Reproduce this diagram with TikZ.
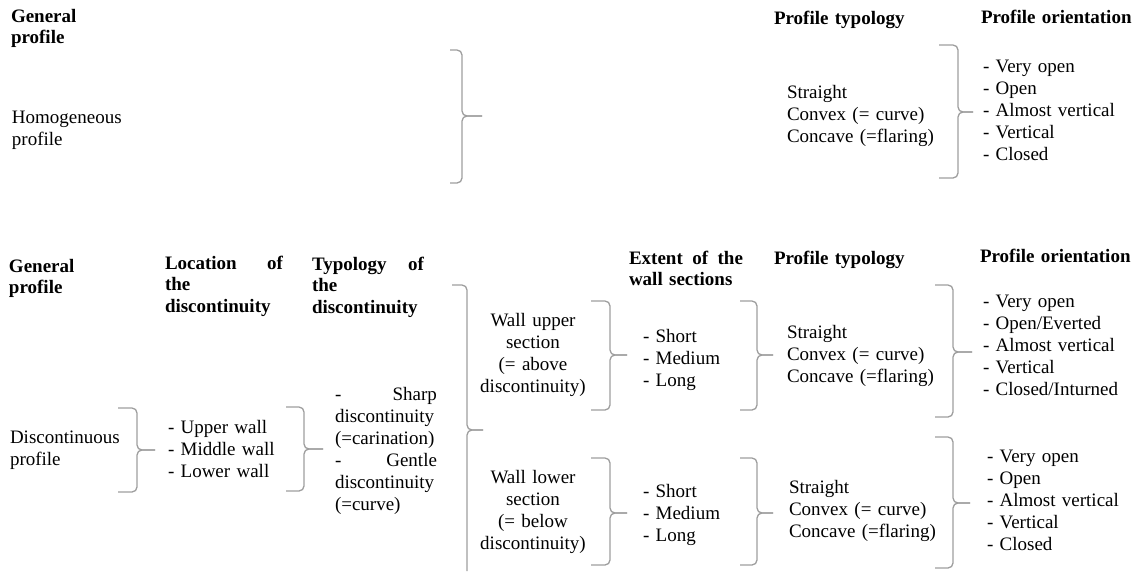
\documentclass[tikz,border=0pt]{standalone}
\usepackage{fontspec}
\setmainfont{Liberation Serif}
\tikzset{
  txt/.style={inner sep=0pt, outer sep=0pt, anchor=base west, align=left, text width=175pt, font=\fontsize{19}{22}\selectfont},
  hd/.style={txt, font=\fontsize{19}{21.5}\selectfont\bfseries},
  ctr/.style={txt, anchor=base, align=center, text width=140pt},
  brc/.style={draw=black!38, line width=1.3pt, rounded corners=5pt}
}
\newcommand{\rbr}[6]{% x0 x1 top mid bot tip
  \draw[brc] (#1,#3) -- (#2,#3) -- (#2,#4) -- (#6,#4);
  \draw[brc] (#1,#5) -- (#2,#5) -- (#2,#4) -- (#6,#4);}
\begin{document}
\begin{tikzpicture}[x=1pt,y=-1pt]
\useasboundingbox (0,0) rectangle (1138,571);
% ---------- top part
\node[hd, text width=90pt] (gp1) at (11,22) {General\\profile};
\node[txt, text width=130pt] (homo) at (12,123) {Homogeneous\\profile};
\rbr{450}{462}{50}{116}{183}{482}
\node[hd] (pt1) at (774,24) {Profile typology};
\node[hd, text width=155pt] (po1) at (981,23) {Profile orientation};
\node[txt] (st1) at (787,98) {Straight\\Convex (= curve)\\Concave (=flaring)};
\rbr{939}{958}{45}{112}{178}{973}
\node[txt, text width=150pt] (or1) at (983,72) {- Very open\\- Open\\- Almost vertical\\- Vertical\\- Closed};
% ---------- bottom part
\node[hd, text width=90pt] (gp2) at (9,272) {General\\profile};
\node[hd, text width=118pt] (loc) at (165,269) {Location\hfill of\\the\\discontinuity};
\node[hd, text width=112pt] (typ) at (312,270) {Typology\hfill of\\the\\discontinuity};
\node[hd, text width=114pt] (ext) at (629,264) {Extent\hfill of\hfill the\\wall sections};
\node[hd] (pt2) at (774,264) {Profile typology};
\node[hd, text width=155pt] (po2) at (980,262) {Profile orientation};
\node[txt, text width=120pt] (disc) at (10,443) {Discontinuous\\profile};
\rbr{118}{137}{408}{450}{492}{155}
\node[txt, text width=115pt] (walls) at (168,433) {- Upper wall\\- Middle wall\\- Lower wall};
\rbr{286}{304}{407}{449}{491}{323}
\node[txt, text width=102pt] (sharp) at (335,400) {-\hfill Sharp\\discontinuity\\(=carination)\\-\hfill Gentle\\discontinuity\\(=curve)};
% big brace, cut by the lower edge
\draw[brc] (452,285) -- (467,285) -- (467,430) -- (483,430);
\draw[brc] (467,571) -- (467,430) -- (483,430);
\node[ctr] (wup) at (533,326) {Wall upper\\section\\(= above\\discontinuity)};
\node[ctr] (wlo) at (533,483) {Wall lower\\section\\(= below\\discontinuity)};
\rbr{591}{610}{301}{355}{410}{627}
\node[txt, text width=90pt] (sh1) at (643,342) {- Short\\- Medium\\- Long};
\rbr{740}{757}{301}{355}{410}{773}
\rbr{591}{610}{458}{513}{565}{627}
\node[txt, text width=90pt] (sh2) at (643,497) {- Short\\- Medium\\- Long};
\rbr{740}{757}{458}{513}{565}{773}
\node[txt] (st2) at (787,338) {Straight\\Convex (= curve)\\Concave (=flaring)};
\node[txt] (st3) at (789,493) {Straight\\Convex (= curve)\\Concave (=flaring)};
\rbr{935}{953}{285}{352}{417}{972}
\rbr{935}{953}{437}{503}{568}{970}
\node[txt, text width=150pt] (or2) at (983,307) {- Very open\\- Open/Everted\\- Almost vertical\\- Vertical\\- Closed/Inturned};
\node[txt, text width=150pt] (or3) at (987,462) {- Very open\\- Open\\- Almost vertical\\- Vertical\\- Closed};
\end{tikzpicture}
\end{document}
